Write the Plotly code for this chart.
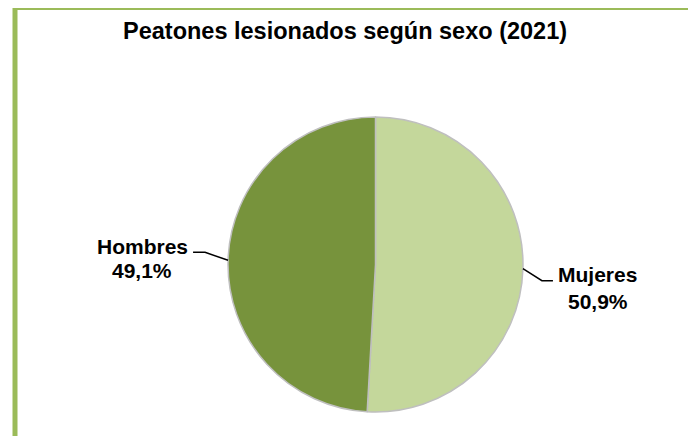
import math
import plotly.graph_objects as go

title_text = "Peatones lesionados según sexo (2021)"
categories = ["Mujeres", "Hombres"]
values = [50.9, 49.1]
colors = ["#C4D79B", "#77933C"]

W, H = 696, 436
OFF = 8  # page body margin: figure starts at (8, 8) in the page
cx, cy, R = 375.5, 264.5, 147.5  # page-pixel center/radius of the pie
FONT = "Liberation Sans"


def px(x):
    return (x - OFF) / W


def py(y):
    return 1 - (y - OFF) / H


fig = go.Figure(go.Pie(
    labels=categories,
    values=values,
    sort=False,
    direction="clockwise",
    rotation=0,
    marker=dict(colors=colors, line=dict(color="#BFBFBF", width=1.5)),
    textinfo="none",
    hoverinfo="label+percent",
    showlegend=False,
    domain=dict(x=[px(cx - R), px(cx + R)], y=[py(cy + R), py(cy - R)]),
))

shapes = []
annotations = []
total = sum(values)
cum = 0.0
for cat, v in zip(categories, values):
    mid = (cum + v / 2) / total * 2 * math.pi
    cum += v
    ex = cx + R * math.sin(mid)
    ey = cy - R * math.cos(mid)
    if math.sin(mid) > 0:
        elbow = (ex + 19, ey + 12)
        end = (elbow[0] + 11, elbow[1])
        tx, ty1, ty2 = end[0] + 45, end[1] - 6, end[1] + 20.5
    else:
        elbow = (ex - 23, ey - 8)
        end = (elbow[0] - 12, elbow[1])
        tx, ty1, ty2 = end[0] - 51, end[1] - 6, end[1] + 18
    shapes.append(dict(type="path", xref="paper", yref="paper",
                       path=f"M {px(ex)},{py(ey)} L {px(elbow[0])},{py(elbow[1])} L {px(end[0])},{py(end[1])}",
                       line=dict(color="black", width=1.5)))
    pct = f"{v:.1f}".replace(".", ",") + "%"
    for txt, ty in ((cat, ty1), (pct, ty2)):
        annotations.append(dict(x=px(tx), y=py(ty), xref="paper", yref="paper",
                                text=f"<b>{txt}</b>", showarrow=False,
                                font=dict(family=FONT, size=21, color="black"),
                                xanchor="center", yanchor="middle"))

# outer frame (green border)
shapes.append(dict(type="rect", xref="paper", yref="paper",
                   x0=px(15), y0=py(480), x1=px(740), y1=py(7.5),
                   line=dict(color="#9BBB59", width=5), layer="below"))

annotations.append(dict(x=px(344.5), y=py(30.5), xref="paper", yref="paper",
                        text=f"<b>{title_text}</b>", showarrow=False,
                        font=dict(family=FONT, size=23.5, color="black"),
                        xanchor="center", yanchor="middle"))

fig.update_layout(
    width=W, height=H,
    margin=dict(l=0, r=0, t=0, b=0),
    paper_bgcolor="white",
    plot_bgcolor="white",
    shapes=shapes,
    annotations=annotations,
)

fig.write_html("out.html")
